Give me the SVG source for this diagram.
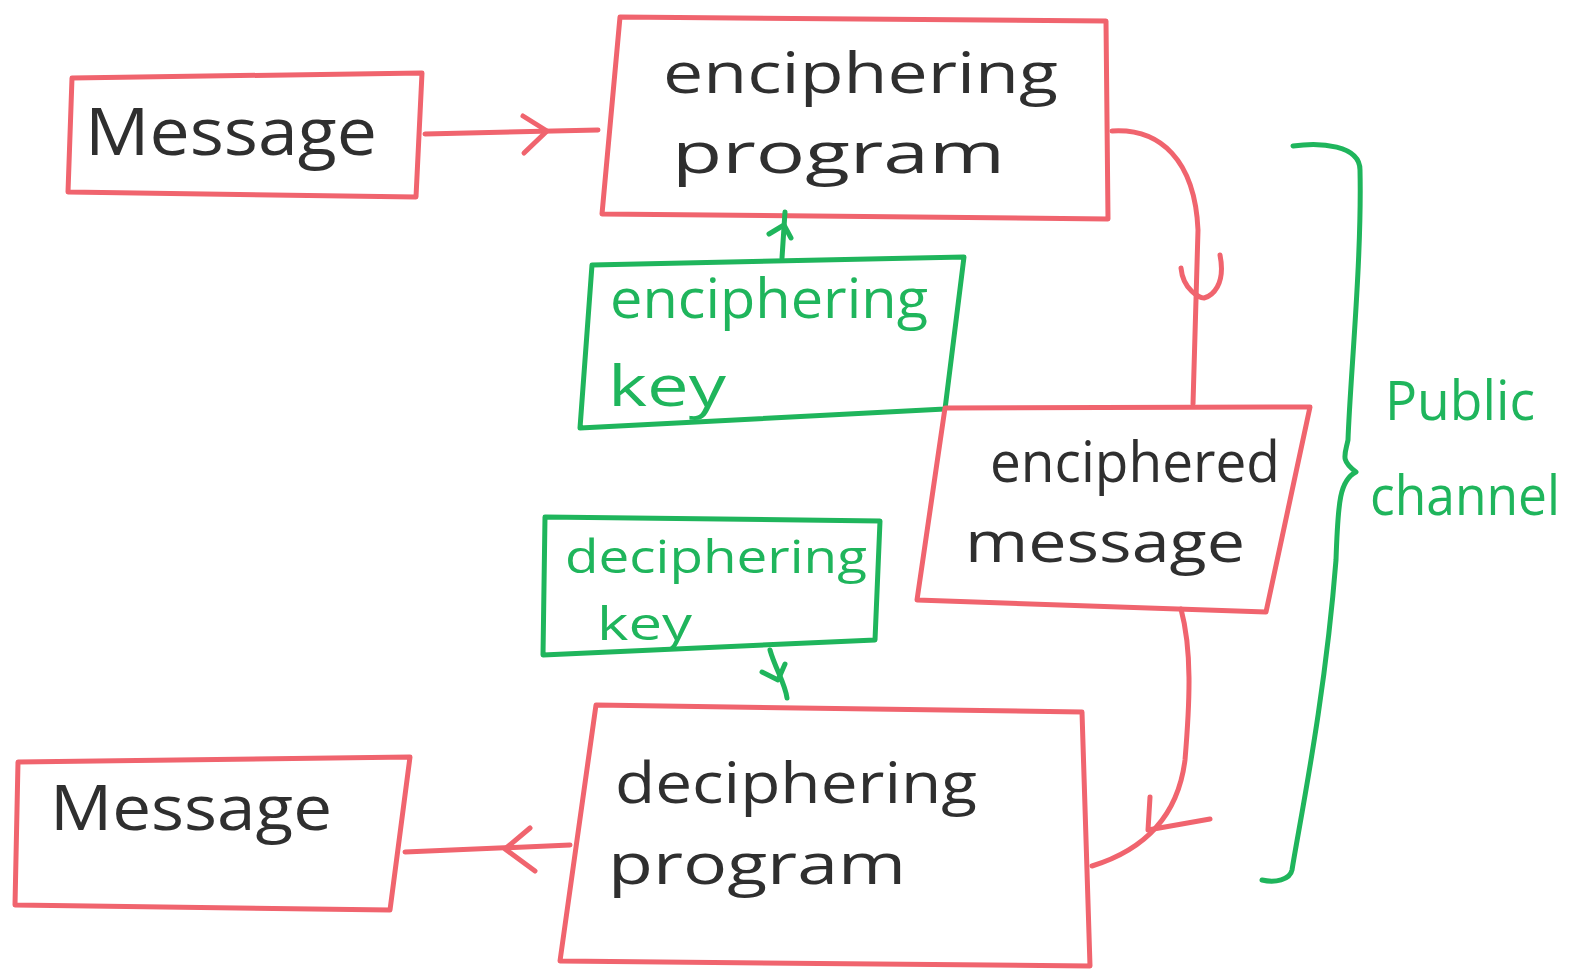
<svg xmlns="http://www.w3.org/2000/svg" width="1575" height="976" viewBox="0 0 1575 976">
<style>
.rb{fill:none;stroke:#f0646e;stroke-width:5;stroke-linejoin:round;stroke-linecap:round}
.gb{fill:none;stroke:#1fb55c;stroke-width:5;stroke-linejoin:round;stroke-linecap:round}
.rl{fill:none;stroke:#f0646e;stroke-width:5;stroke-linecap:round;stroke-linejoin:round}
.gl{fill:none;stroke:#1fb55c;stroke-width:5;stroke-linecap:round;stroke-linejoin:round}
.tk{font-family:"Open Sans","Liberation Sans",sans-serif;fill:#2f2f2f}
.tg{font-family:"Open Sans","Liberation Sans",sans-serif;fill:#1fb55c}
</style>
<rect width="1575" height="976" fill="#ffffff"/>
<g id="message-top">
<polygon class="rb" points="72,78 422,73 416,197 68,192"/>
<text class="tk" x="85" y="155" font-size="66" textLength="292" lengthAdjust="spacingAndGlyphs">Message</text>
</g>
<g id="enciphering-program">
<polygon class="rb" points="620,17 1106,21 1108,219 602,214"/>
<text class="tk" x="663" y="93" font-size="56" textLength="395" lengthAdjust="spacingAndGlyphs">enciphering</text>
<text class="tk" x="672" y="173" font-size="56" textLength="333" lengthAdjust="spacingAndGlyphs">program</text>
</g>
<g id="enciphering-key">
<polygon class="gb" points="592,265 964,257 945,409 580,428"/>
<text class="tg" x="610" y="318" font-size="54" textLength="318" lengthAdjust="spacingAndGlyphs">enciphering</text>
<text class="tg" x="608" y="406" font-size="56" textLength="118" lengthAdjust="spacingAndGlyphs">key</text>
</g>
<g id="enciphered-message">
<polygon class="rb" points="945,408 1310,407 1266,612 917,600"/>
<text class="tk" x="990" y="482" font-size="56" textLength="290" lengthAdjust="spacingAndGlyphs">enciphered</text>
<text class="tk" x="965" y="562" font-size="56" textLength="280" lengthAdjust="spacingAndGlyphs">message</text>
</g>
<g id="deciphering-key">
<polygon class="gb" points="545,517 880,521 875,640 543,655"/>
<text class="tg" x="565" y="573" font-size="45" textLength="302" lengthAdjust="spacingAndGlyphs">deciphering</text>
<text class="tg" x="597" y="640" font-size="45" textLength="95" lengthAdjust="spacingAndGlyphs">key</text>
</g>
<g id="deciphering-program">
<polygon class="rb" points="596,705 1082,712 1090,966 560,961"/>
<text class="tk" x="615" y="803" font-size="56" textLength="362" lengthAdjust="spacingAndGlyphs">deciphering</text>
<text class="tk" x="608" y="884" font-size="56" textLength="298" lengthAdjust="spacingAndGlyphs">program</text>
</g>
<g id="message-bottom">
<polygon class="rb" points="18,762 410,757 390,910 15,905"/>
<text class="tk" x="50" y="830" font-size="62" textLength="282" lengthAdjust="spacingAndGlyphs">Message</text>
</g>
<g id="public-channel">
<path class="gl" d="M1293,146 C1320,142 1360,145 1360,170 C1362,260 1350,380 1348,440 C1345,455 1340,460 1356,472 C1340,480 1338,500 1336,560 C1325,700 1300,820 1292,870 C1290,880 1275,883 1262,880"/>
<text class="tg" x="1385" y="420" font-size="54" textLength="150" lengthAdjust="spacingAndGlyphs">Public</text>
<text class="tg" x="1370" y="515" font-size="54" textLength="190" lengthAdjust="spacingAndGlyphs">channel</text>
</g>
<g id="connectors">
<path class="rl" d="M425,134 L598,130"/>
<path class="rl" d="M523,116 L547,131 L524,153"/>
<path class="gl" d="M782,258 L785,212"/>
<path class="gl" d="M769,234 L784,225 L791,238"/>
<path class="rl" d="M1112,131 C1160,128 1195,160 1198,230 L1193,404"/>
<path class="rl" d="M1181,268 C1183,290 1200,298 1204,298 C1212,296 1226,285 1220,255"/>
<path class="rl" d="M1181,609 C1192,650 1190,700 1185,760 C1180,800 1160,845 1092,866"/>
<path class="rl" d="M1150,797 L1148,830 L1210,819"/>
<path class="gl" d="M770,650 C775,668 785,683 787,698"/>
<path class="gl" d="M762,672 L778,680 L785,664"/>
<path class="rl" d="M570,845 L405,852"/>
<path class="rl" d="M530,828 L505,849 L535,871"/>
</g>
</svg>
